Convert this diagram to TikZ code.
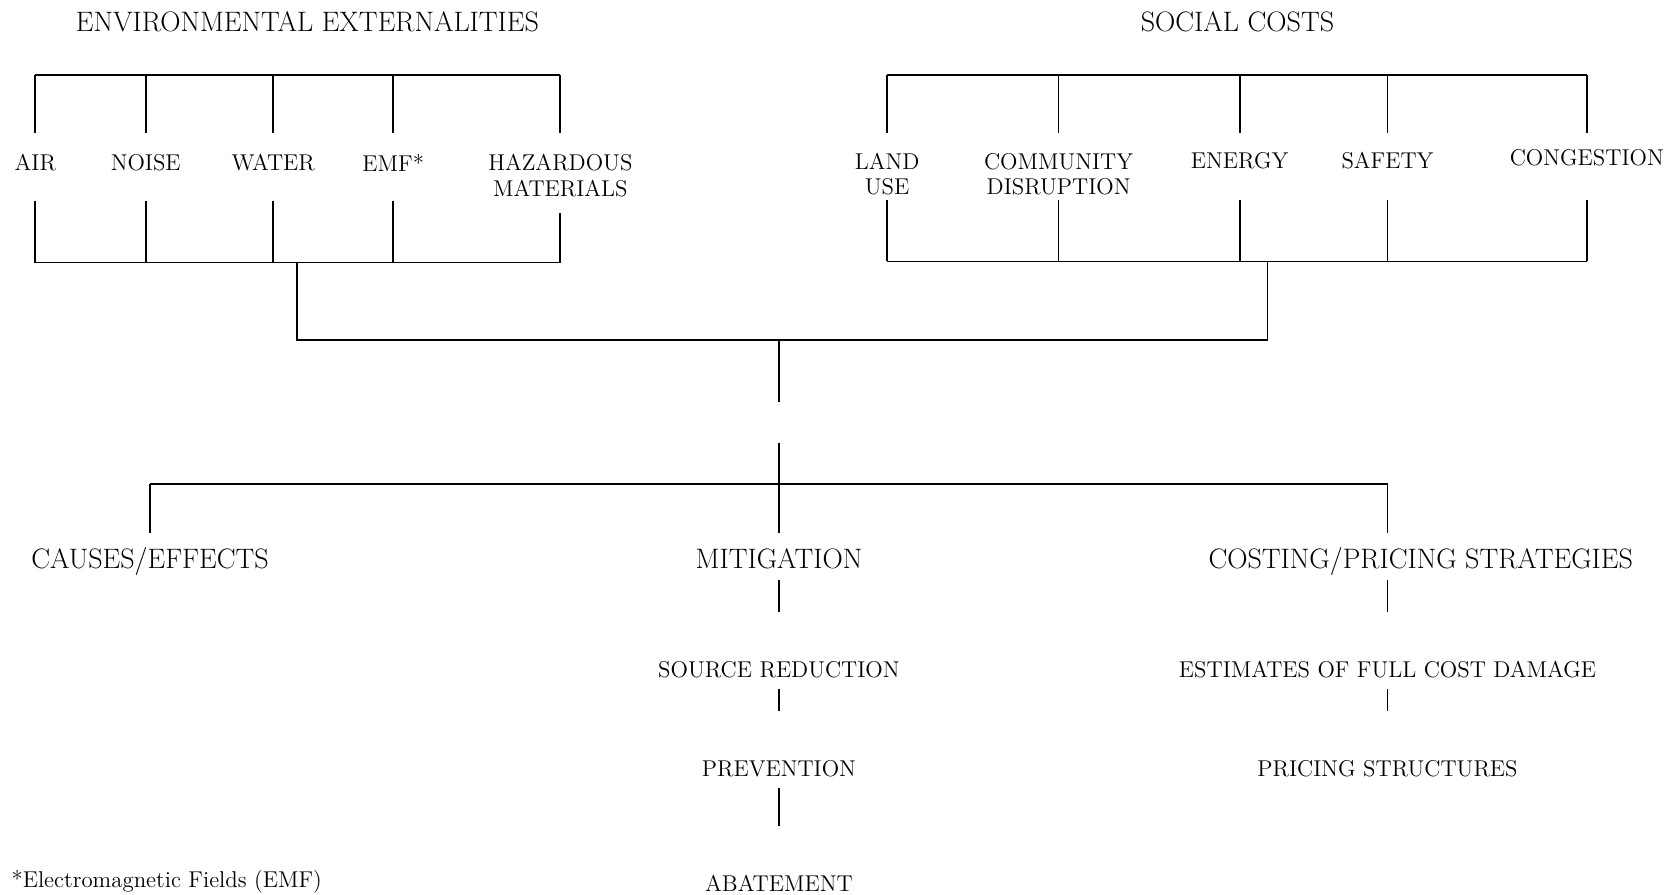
\documentclass[tikz,border=0pt]{standalone}
\usepackage{fontspec}
\usepackage{tikz}

\tikzset{
  head/.style={inner sep=0pt, font=\fontsize{16}{19}\selectfont, text height=11pt, text depth=0pt},
  item/.style={inner sep=0pt, align=center, font=\fontsize{13}{14.6}\selectfont},
  drop/.style={shorten >=0.32cm},
  link/.style={shorten <=0.21cm, shorten >=0.96cm}
}

\begin{document}
\begin{tikzpicture}[x=0.02143cm, y=-0.02143cm, line width=1pt]
    \useasboundingbox (0,0) rectangle (1568,835);

    \node(envtitle)[head] at (287,20) {ENVIRONMENTAL EXTERNALITIES};
    \node(soctitle)[head] at (1155,20) {SOCIAL COSTS};

    \node(air)[item] at (33,152) {AIR};
    \node(noise)[item] at (136,152) {NOISE};
    \node(water)[item] at (255,152) {WATER};
    \node(emf)[item] at (367,152) {EMF*};
    \node(hazard)[item] at (523,164) {HAZARDOUS\\MATERIALS};

    \node(land)[item] at (828,162.5) {LAND\\USE};
    \node(community)[item] at (988,162.5) {COMMUNITY\\DISRUPTION};
    \node(energy)[item] at (1157,150) {ENERGY};
    \node(safety)[item] at (1295,150) {SAFETY};
    \node(congestion)[item] at (1481,147) {CONGESTION};

    \coordinate(envtop) at (0,70);
    \coordinate(envbot) at (0,245);
    \draw (air |- envtop) -- (hazard |- envtop);
    \draw (air |- envbot) -- (hazard |- envbot);
    \foreach \n/\lo in {air/188, noise/188, water/188, emf/188, hazard/199}
    {
        \draw (\n |- envtop) -- (\n |- 0,124);
        \draw (\n |- 0,\lo) -- (\n |- envbot);
    }

    \coordinate(soctop) at (0,70);
    \coordinate(socbot) at (0,244);
    \draw (land |- soctop) -- (congestion |- soctop);
    \draw (land |- socbot) -- (congestion |- socbot);
    \foreach \n in {land, community, energy, safety, congestion}
    {
        \draw (\n |- soctop) -- (\n |- 0,124);
        \draw (\n |- 0,187) -- (\n |- socbot);
    }

    \coordinate(envout) at (277,245);
    \coordinate(socout) at (1183,244);
    \coordinate(join) at (727,317);
    \coordinate(breakA) at (727,375);
    \coordinate(breakB) at (727,413);
    \coordinate(split) at (727,452);
    \draw (envout) |- (join) -| (socout);
    \draw (join) -- (breakA);

    \node(causes)[head] at (140,522) {CAUSES/EFFECTS};
    \node(mitigation)[head] at (727,522) {MITIGATION};
    \node(costing)[head] at (1326,522) {COSTING/PRICING STRATEGIES};
    \node(source)[item] at (727,625) {SOURCE REDUCTION};
    \node(prevention)[item] at (727,717) {PREVENTION};
    \node(abatement)[item] at (727,824) {ABATEMENT};
    \node(estimates)[item] at (1295,625) {ESTIMATES OF FULL COST DAMAGE};
    \node(pricing)[item] at (1295,717) {PRICING STRUCTURES};
    \node(note)[item, anchor=west] at (10,823) {*Electromagnetic Fields (EMF)};

    \draw[drop] (breakB) -- (mitigation);
    \draw (split -| causes) -- (split -| estimates);
    \draw[drop] (split -| causes) -- (causes);
    \draw[drop] (split -| estimates) -- (estimates |- costing.north);

    \draw[link] (mitigation) -- (source);
    \draw[link] (source) -- (prevention);
    \draw[link] (prevention) -- (abatement);
    \draw[link] (estimates |- costing.south) -- (estimates);
    \draw[link] (estimates) -- (pricing);
\end{tikzpicture}
\end{document}
